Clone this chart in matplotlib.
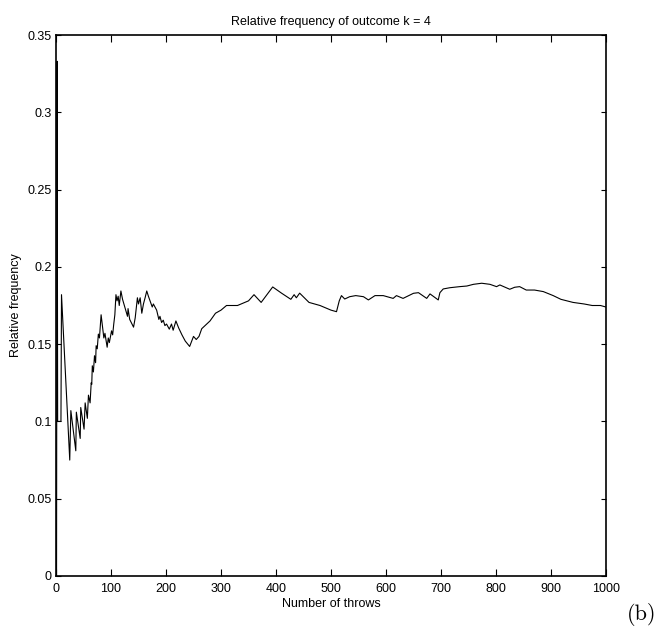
import matplotlib
matplotlib.use('Agg')
import matplotlib.pyplot as plt

# ── Data (running relative frequency of k = 4) ─────────────────────────────────
throws = [1, 2, 3, 9, 10, 25, 27, 36, 37, 44, 45, 51, 53, 57, 59, 62, 64, 65,
          66, 68, 70, 72, 73, 75, 77, 79, 82, 87, 89, 93, 95, 97, 101, 103, 105,
          107, 109, 111, 113, 115, 118, 121, 130, 131, 134, 141, 144, 148, 150,
          153, 156, 159, 162, 165, 168, 170, 172, 175, 177, 183, 187, 189, 192,
          195, 198, 201, 206, 210, 213, 218, 223, 229, 235, 243,
          250, 255, 260, 265, 280, 290, 300, 310, 330, 350, 360, 373, 394, 410,
          427, 433, 437, 443, 460, 480, 500, 510, 515, 519, 525, 534, 545, 559,
          568, 580, 595, 613, 619, 631, 650, 659, 674, 680, 695, 698, 704, 716,
          734, 747, 759, 774, 789, 801, 807, 825, 834, 843, 855, 870, 886, 904,
          918, 940, 960, 975, 990, 1000]
rel_freq = [0.0, 0.333, 0.100, 0.100, 0.182, 0.075, 0.107, 0.081, 0.106, 0.089,
            0.109, 0.095, 0.112, 0.102, 0.117, 0.112, 0.125, 0.124, 0.136, 0.132,
            0.1425, 0.138, 0.149, 0.147, 0.1565, 0.154, 0.169, 0.154, 0.157,
            0.148, 0.154, 0.151, 0.1586, 0.156, 0.163, 0.169, 0.182, 0.178,
            0.181, 0.175, 0.1844, 0.179, 0.168, 0.173, 0.166, 0.161, 0.167,
            0.180, 0.176, 0.180, 0.170, 0.176, 0.180, 0.1844, 0.181, 0.179,
            0.177, 0.174, 0.176, 0.172, 0.166, 0.168, 0.164, 0.1655, 0.162,
            0.163, 0.1597, 0.163, 0.159, 0.165, 0.1605, 0.156, 0.152, 0.1485,
            0.155, 0.153, 0.155, 0.160, 0.165, 0.170, 0.172, 0.175, 0.175,
            0.178, 0.182, 0.177, 0.187, 0.183, 0.179, 0.182, 0.180, 0.183,
            0.177, 0.175, 0.172, 0.171, 0.178, 0.1814, 0.1792, 0.1807, 0.1814,
            0.1807, 0.1786, 0.1814, 0.1814, 0.1796, 0.1814, 0.1796, 0.1829,
            0.1833, 0.1796, 0.1825, 0.1786, 0.1833, 0.1857, 0.1865, 0.1872,
            0.1876, 0.1887, 0.1894, 0.1887, 0.1872, 0.1883, 0.1855, 0.1868,
            0.1872, 0.185, 0.185, 0.184, 0.1814, 0.179, 0.177, 0.176, 0.175,
            0.175, 0.174]

x_ticks = [0, 100, 200, 300, 400, 500, 600, 700, 800, 900, 1000]
y_ticks = [0, 0.05, 0.1, 0.15, 0.2, 0.25, 0.3, 0.35]
y_tick_labels = ['0', '0.05', '0.1', '0.15', '0.2', '0.25', '0.3', '0.35']

plt.rcParams['font.family'] = ['Liberation Sans', 'DejaVu Sans']

fig = plt.figure(figsize=(6.6, 6.29), dpi=100)
ax = fig.add_axes([56 / 660, 1 - 576 / 629, 550 / 660, 541 / 629])

ax.plot(throws, rel_freq, color='black', lw=0.8)

ax.set_xlim(0, 1000)
ax.set_ylim(0, 0.35)
ax.set_xticks(x_ticks)
ax.set_yticks(y_ticks)
ax.set_yticklabels(y_tick_labels)
ax.tick_params(direction='in', top=True, right=True, labelsize=9, width=0.8)
ax.tick_params(axis='x', length=5, pad=5)
ax.tick_params(axis='y', length=3.5, pad=3)
for s in ax.spines.values():
    s.set_linewidth(1.2)

ax.set_title('Relative frequency of outcome k = 4', fontsize=9, pad=7)
ax.set_xlabel('Number of throws', fontsize=9, labelpad=2)
ax.set_ylabel('Relative frequency', fontsize=9, labelpad=4)

fig.text(642 / 660, 1 - 614 / 629, '(b)', family='cmr10', fontsize=16,
         ha='center', va='center')

fig.savefig('out.png', dpi=100)
